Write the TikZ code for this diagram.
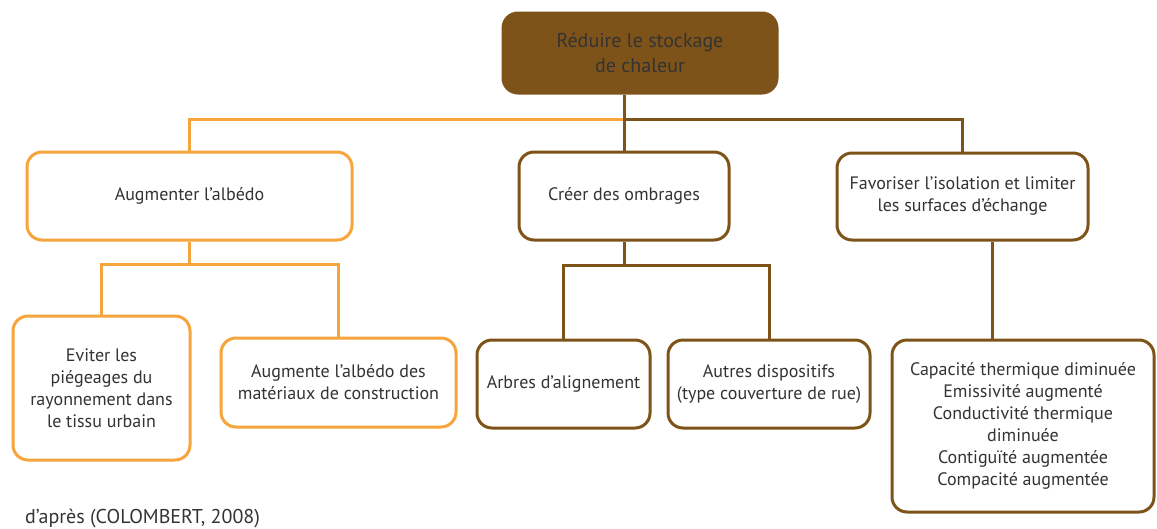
\documentclass[tikz,border=0pt]{standalone}
\usepackage{fontspec}
\setmainfont{PT Sans}
\definecolor{brn}{HTML}{7E5319}
\definecolor{org}{HTML}{F6A43C}
\definecolor{txt}{HTML}{333333}
\begin{document}
\begin{tikzpicture}[x=1pt,y=-1pt,
  box/.style={draw, line width=3pt, rounded corners=15pt, fill=white, align=center,
    text=txt, font=\fontsize{18}{22}\selectfont, inner sep=2pt},
  obox/.style={box, draw=org},
  bbox/.style={box, draw=brn},
  oline/.style={draw=org, line width=3pt},
  bline/.style={draw=brn, line width=3pt}]
\useasboundingbox (0,0) rectangle (1157,528);
% nodes
\node[bbox, fill=brn, minimum width=274pt, minimum height=80pt, font=\fontsize{20}{25}\selectfont] (top) at (640,53) {Réduire le stockage\\de chaleur};
\node[obox, minimum width=325pt, minimum height=88pt] (aug) at (189.5,196) {Augmenter l’albédo};
\node[bbox, minimum width=210pt, minimum height=88pt] (cre) at (624,196) {Créer des ombrages};
\node[bbox, minimum width=251pt, minimum height=87pt] (fav) at (962.5,196.5) {Favoriser l’isolation et limiter\\les surfaces d’échange};
\node[obox, minimum width=177pt, minimum height=144pt] (evi) at (101.5,388) {Eviter les\\piégeages du\\rayonnement dans\\le tissu urbain};
\node[obox, minimum width=235pt, minimum height=89pt] (augm) at (338.5,382.5) {Augmente l’albédo des\\matériaux de construction};
\node[bbox, minimum width=173pt, minimum height=88pt] (arb) at (563.5,384) {Arbres d’alignement};
\node[bbox, minimum width=202pt, minimum height=88pt] (aut) at (769,384) {Autres dispositifs\\(type couverture de rue)};
\node[bbox, minimum width=262pt, minimum height=172pt] (cap) at (1023,426) {Capacité thermique diminuée\\Emissivité augmenté\\Conductivité thermique\\diminuée\\Contiguïté augmentée\\Compacité augmentée};
\node[anchor=base west, text=txt, inner sep=0pt, font=\fontsize{20}{24}\selectfont] (src) at (25,523) {d’après (COLOMBERT, 2008)};
% connectors
\coordinate (j1) at (624,119);
\coordinate (j2) at (189.5,264);
\coordinate (j3) at (624,265);
\path[oline] (j1) -| (aug.north);
\path[bline] (j1) -| (fav.north);
\path[bline] (top.south -| j1) -- (cre.north);
\path[oline] (aug.south) -- (j2);
\path[oline] (evi.north) |- (j2) -| (augm.north);
\path[bline] (cre.south) -- (j3);
\path[bline] (arb.north) |- (j3) -| (aut.north);
\path[bline] ([xshift=30pt]fav.south) -- ([xshift=30pt]fav.south |- cap.north);
\end{tikzpicture}
\end{document}
